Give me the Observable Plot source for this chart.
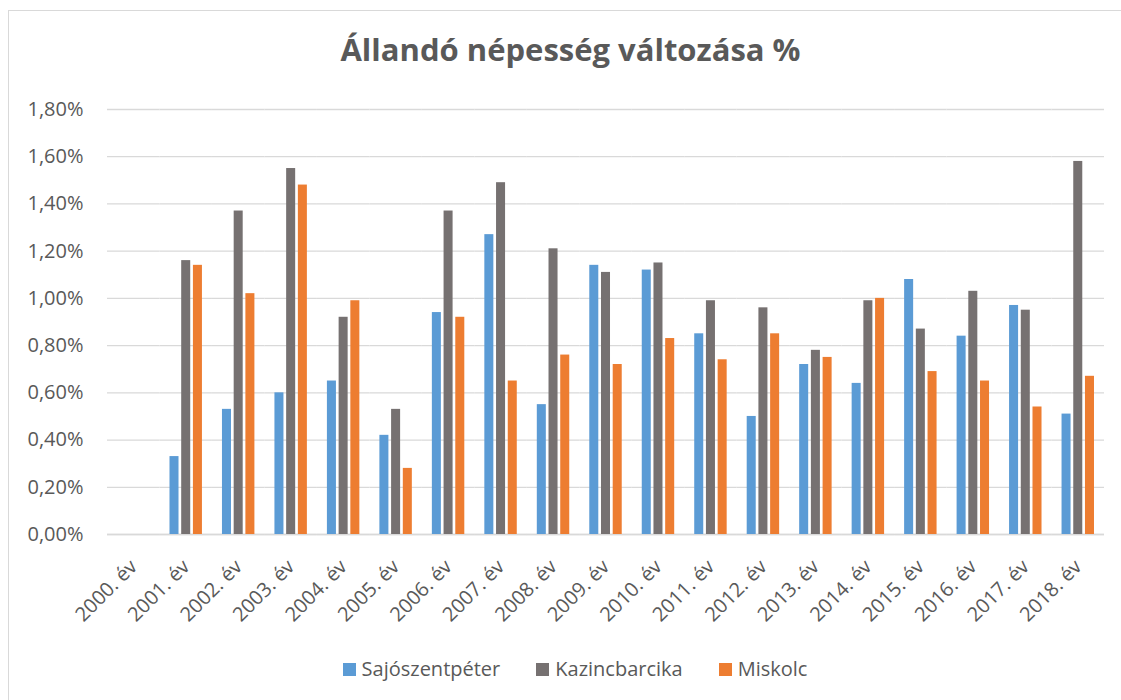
<!DOCTYPE html>
<html>
<head>
<meta charset="utf-8">
<script src="https://cdn.jsdelivr.net/npm/d3@7"></script>
<script src="https://cdn.jsdelivr.net/npm/@observablehq/plot@0.6"></script>
<style>
  html, body { margin: 0; padding: 0; background: #fff; overflow: hidden; width: 1121px; height: 700px; }
  #frame { position: absolute; left: 8px; top: 10px; width: 1200px; height: 800px; border: 1px solid #d9d9d9; }
  #title { position: absolute; left: 0; top: 29px; width: 1141px; text-align: center;
           font-family: "Open Sans", sans-serif; font-weight: 700; font-size: 31px; color: #595959; line-height: 40px; }
  #chart { position: absolute; left: 0; top: 90px; }
  #legend { position: absolute; left: 0; top: 654px; width: 1150px; display: flex; justify-content: center;
            font-family: "Open Sans", sans-serif; font-size: 20px; color: #595959; line-height: 30px; }
  .item { display: flex; align-items: center; margin: 0 18px; }
  .sw { width: 13px; height: 13px; margin-right: 6px; }
</style>
</head>
<body>
<div id="frame"></div>
<div id="title">Állandó népesség változása %</div>
<div id="chart"></div>
<div id="legend"></div>
<script>
const years = ["2000. év","2001. év","2002. év","2003. év","2004. év","2005. év","2006. év","2007. év","2008. év","2009. év",
               "2010. év","2011. év","2012. év","2013. év","2014. év","2015. év","2016. év","2017. év","2018. év"];
const series = ["Sajószentpéter", "Kazincbarcika", "Miskolc"];
const colors = ["#5B9BD5", "#767171", "#ED7D31"];
const sajoszentpeter = [null, 0.33, 0.53, 0.60, 0.65, 0.42, 0.94, 1.27, 0.55, 1.14, 1.12, 0.85, 0.50, 0.72, 0.64, 1.08, 0.84, 0.97, 0.51];
const kazincbarcika  = [null, 1.16, 1.37, 1.55, 0.92, 0.53, 1.37, 1.49, 1.21, 1.11, 1.15, 0.99, 0.96, 0.78, 0.99, 0.87, 1.03, 0.95, 1.58];
const miskolc        = [null, 1.14, 1.02, 1.48, 0.99, 0.28, 0.92, 0.65, 0.76, 0.72, 0.83, 0.74, 0.85, 0.75, 1.00, 0.69, 0.65, 0.54, 0.67];
const yTicks = [0, 0.2, 0.4, 0.6, 0.8, 1.0, 1.2, 1.4, 1.6, 1.8];

const valuesBySeries = [sajoszentpeter, kazincbarcika, miskolc];
const data = [];
years.forEach((year, i) => {
  series.forEach((s, j) => data.push({year, series: s, value: valuesBySeries[j][i]}));
});

const fmt = d => d.toFixed(2).replace(".", ",") + "%";

const chart = Plot.plot({
  width: 1121,
  height: 540,
  marginTop: 19,
  marginBottom: 96,
  marginLeft: 107,
  marginRight: 17,
  style: { fontFamily: "Open Sans, sans-serif", fontSize: "20px", color: "#595959", background: "transparent" },
  fx: { domain: years, padding: 0, round: false, label: null, axis: "bottom", tickRotate: -45, tickSize: 0, tickPadding: 29 },
  x: { domain: series, paddingInner: 0.23, paddingOuter: 0.855, round: false, axis: null },
  y: { domain: [0, 1.8], ticks: yTicks, tickFormat: fmt, label: null, tickSize: 0, tickPadding: 24 },
  color: { domain: series, range: colors },
  marks: [
    Plot.gridY(yTicks, { stroke: "#d9d9d9", strokeOpacity: 1, strokeWidth: 1.3 }),
    Plot.ruleY(years, { fx: d => d, y: () => 0, stroke: "#d9d9d9", strokeWidth: 1.3 }),
    Plot.barY(data, { fx: "year", x: "series", y: "value", fill: "series" })
  ]
});
document.getElementById("chart").appendChild(chart);

const legend = document.getElementById("legend");
series.forEach((s, j) => {
  const item = document.createElement("div");
  item.className = "item";
  item.innerHTML = `<span class="sw" style="background:${colors[j]}"></span><span>${s}</span>`;
  legend.appendChild(item);
});
</script>
</body>
</html>
